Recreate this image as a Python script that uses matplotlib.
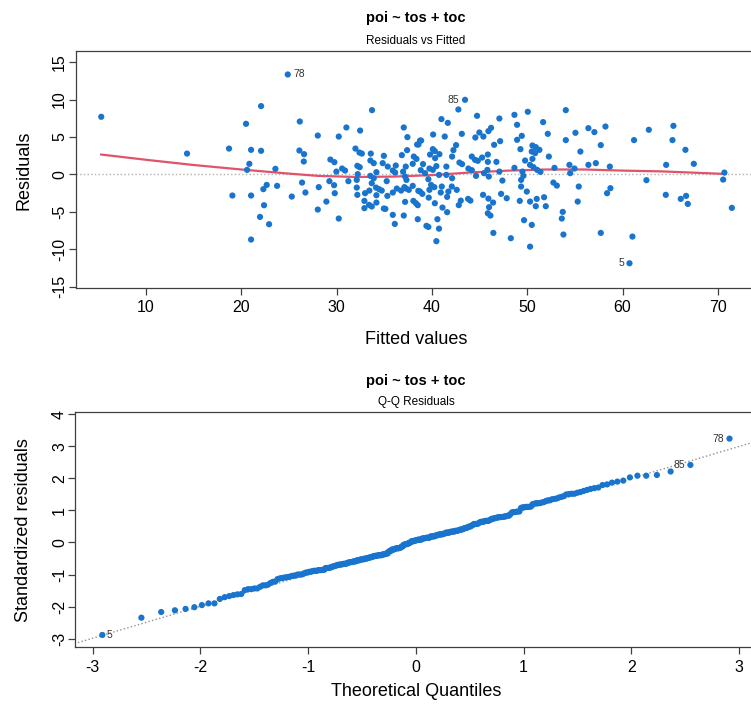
import matplotlib
matplotlib.use('Agg')
import matplotlib.pyplot as plt
import numpy as np
from statistics import NormalDist

plt.rcParams['font.family'] = ['Liberation Sans', 'DejaVu Sans']
plt.rcParams['axes.unicode_minus'] = False

fitted = [
    5.3, 14.3,
    24.87, 22.07, 20.49, 26.13, 18.71, 21.02, 22.07, 26.09, 26.58, 26.55, 20.84, 20.60,
    23.57, 22.66, 22.31, 23.75, 26.37, 26.72, 19.06, 21.02, 25.29, 22.38, 21.96, 22.91, 21.02,
    28.02, 30.22, 31.02, 32.46, 33.71, 37.04, 37.42, 38.44, 38.75, 31.97, 32.39, 32.64, 33.58,
    34.95, 36.84, 37.39, 38.09, 38.37, 29.34, 29.76, 33.54, 33.89, 32.17, 32.42, 34.83, 35.36,
    36.20, 37.25, 37.98, 30.57, 30.88, 29.97, 34.17, 35.89, 36.13, 36.97, 32.21, 33.54, 33.89,
    37.18, 37.32, 29.24, 31.23, 32.11, 35.25, 29.73, 28.12, 32.11, 33.68, 34.13, 34.45, 34.73,
    33.43, 36.31, 36.76, 37.11, 37.29, 37.57, 37.98, 38.57, 29.80, 32.17, 32.98, 34.17, 35.32,
    35.89, 28.92, 32.91, 33.40, 33.68, 34.17, 32.91, 34.95, 35.11, 37.18, 38.05, 38.31, 38.51,
    28.02, 35.89, 37.04, 30.22, 36.10, 38.51,
    43.47, 42.77, 40.99, 41.66, 44.73, 47.07, 48.65, 48.93, 50.05, 40.12, 41.34, 43.13, 44.97,
    44.55, 45.39, 45.92, 46.20, 38.86, 38.58, 47.15, 46.52, 49.42, 48.93, 49.28, 42.53, 42.25,
    40.09, 40.30, 40.78, 39.80, 40.33, 42.11, 39.06, 41.51, 40.46, 42.88, 43.16, 44.18, 44.52,
    44.81, 45.26, 45.86, 45.86, 43.82, 44.18, 46.76, 48.65, 49.77, 50.29, 39.73, 40.09, 38.82,
    39.27, 40.74, 41.51, 42.11, 44.62, 45.46, 45.81, 45.96, 47.07, 47.39, 49.49, 49.59, 39.62,
    39.91, 40.25, 41.03, 42.08, 41.72, 42.60, 39.73, 38.75, 38.99, 39.66, 40.92, 41.59, 40.30,
    41.10, 41.59, 42.81, 43.02, 43.79, 44.03, 45.36, 45.92, 45.99, 46.41, 45.86, 46.13, 47.25,
    47.84, 49.21, 49.35, 49.95, 49.35, 39.42, 39.62, 40.57, 40.74, 40.46, 46.44, 48.27, 49.66,
    50.29,
    54.04, 51.66, 52.15, 54.04, 55.05, 56.41, 57.04, 58.20, 57.71, 61.20, 55.57, 50.54, 50.89,
    51.27, 50.47, 50.82, 52.26, 50.54, 50.65, 51.03, 51.38, 52.85, 54.42, 54.95, 54.50, 56.41,
    57.19, 58.66, 52.74, 53.10, 55.40, 58.72, 58.37, 50.29, 50.99, 51.76, 50.89, 51.94, 55.29,
    53.72, 53.62, 50.47, 53.79, 57.71, 61.03, 60.72,
    62.75, 65.33, 65.23, 66.59, 64.57, 67.47, 70.68, 70.55, 62.50, 64.53, 66.10, 66.66, 66.84,
    71.46,
]
residuals = [
    7.7, 2.78,
    13.36, 9.13, 6.76, 7.07, 3.45, 3.28, 3.15, 3.19, 2.70, 1.72, 1.41, 0.60,
    0.74, -1.41, -1.98, -1.54, -1.10, -2.43, -2.83, -2.83, -2.97, -4.13, -5.69, -6.67, -8.72,
    5.19, 5.06, 6.27, 5.86, 8.59, 6.27, 4.98, 3.99, 4.52, 3.45, 2.92, 2.78, 2.78,
    2.48, 2.57, 3.24, 2.38, 2.07, 1.98, 1.63, 1.85, 1.50, 1.14, 0.96, 1.50, 1.04,
    1.18, 1.04, 1.41, 0.78, 0.51, 0.37, 0.29, 0.51, 0.24, 0.37, 0.03, -0.20, -0.51,
    -0.29, -0.74, -0.91, -0.91, -0.74, -0.91, -1.45, -1.71, -1.77, -1.18, -1.77, -1.98, -2.17,
    -2.17, -1.90, -2.17, -1.71, -1.90, -2.07, -1.54, -2.21, -2.52, -2.74, -2.52, -2.79, -2.88,
    -2.43, -3.64, -3.55, -4.08, -4.30, -3.77, -4.52, -4.57, -4.62, -3.68, -3.55, -3.86, -4.12,
    -4.71, -5.42, -5.51, -5.91, -6.63, -6.00,
    9.97, 8.68, 7.39, 6.89, 7.83, 7.47, 7.96, 6.63, 8.37, 5.33, 5.06, 5.42, 5.60,
    4.93, 5.06, 5.78, 6.22, 4.52, 3.99, 4.44, 3.95, 5.15, 4.62, 3.37, 3.91, 3.24,
    3.37, 3.11, 2.70, 2.65, 2.17, 2.38, 1.37, 1.04, 1.10, 1.58, 1.37, 2.38, 1.94,
    1.81, 2.25, 2.65, 1.67, 0.78, 0.56, 1.67, 0.87, 1.85, 1.27, 0.78, 0.60, 0.56,
    0.16, -0.07, -0.07, -0.51, -0.20, 0.16, 0.60, -0.29, 0.37, -0.83, 0.37, -0.20, -0.65,
    -1.41, -1.71, -1.63, -1.63, -2.30, -2.07, -2.07, -2.30, -2.61, -3.11, -2.43, -3.01, -3.86,
    -4.44, -5.06, -4.12, -3.51, -3.28, -3.51, -2.74, -3.24, -4.39, -3.77, -5.20, -5.51, -2.61,
    -3.19, -3.55, -1.63, -2.30, -0.74, -6.89, -7.03, -6.00, -7.26, -8.94, -7.83, -8.54, -6.13,
    -9.67,
    8.59, 6.99, 5.42, 4.58, 5.56, 6.18, 5.65, 6.40, 3.91, 4.58, 3.05, 3.86, 3.64,
    3.28, 3.05, 2.84, 2.38, 2.07, 0.96, 0.60, 0.33, 0.87, 1.27, 0.78, 0.16, 1.27,
    1.50, 1.04, -1.10, -1.50, -1.63, -1.85, -2.52, -3.64, -3.28, -3.06, -4.26, -4.26, -3.64,
    -5.02, -5.91, -6.76, -8.05, -7.83, -8.32, -11.89,
    5.96, 6.49, 4.58, 3.28, 1.27, 1.41, 0.24, -0.70, -0.78, -2.74, -3.28, -2.88, -3.95,
    -4.48,
]

# smoother (red line)
smooth_x = [5.3, 10, 15, 20, 25, 28, 32, 36, 40, 44, 48, 52, 56, 60, 64, 68, 70.8]
smooth_y = [2.65, 1.95, 1.25, 0.65, 0.1, -0.2, -0.35, -0.3, -0.1, 0.25, 0.5, 0.65, 0.65, 0.5, 0.4, 0.2, 0.05]

# observation ids of the three largest residuals (by |residual|)
id_labels = ['78', '5', '85']

fitted = np.array(fitted)
residuals = np.array(residuals)
n = len(residuals)

blue = '#1874CD'
red = '#DF536B'
spine_col = '#404040'

fig = plt.figure(figsize=(7.51, 7.09), dpi=100)
W, H = 751, 709


def style_axes(ax):
    for s in ax.spines.values():
        s.set_color(spine_col)
        s.set_linewidth(0.9)
    ax.tick_params(axis='both', direction='out', length=5, width=0.9, color=spine_col,
                   labelsize=11.5)
    ax.tick_params(axis='x', pad=4)
    ax.tick_params(axis='y', pad=1)
    for lab in ax.get_yticklabels():
        lab.set_rotation(90)
        lab.set_va('center')


order = np.argsort(-np.abs(residuals))[:3]

# --- Residuals vs Fitted
ax1 = fig.add_axes([75.5 / W, 1 - 288 / H, (757 - 75.5) / W, (288 - 51) / H])
ax1.axhline(0, color='#b0b0b0', linestyle=':', linewidth=1)
ax1.scatter(fitted, residuals, s=20, color=blue, edgecolors='none', zorder=3)
ax1.plot(smooth_x, smooth_y, color=red, linewidth=1.6, zorder=2)
ax1.set_xlim(2.6, 74.1)
ax1.set_ylim(-15.2, 16.5)
ax1.set_xticks([10, 20, 30, 40, 50, 60, 70])
ax1.set_yticks([-15, -10, -5, 0, 5, 10, 15])
style_axes(ax1)
for k, idx in enumerate(order):
    lab = id_labels[k]
    if lab == '78':
        ax1.annotate(lab, (fitted[idx], residuals[idx]), xytext=(4, 0), textcoords='offset points',
                     fontsize=7.5, va='center', ha='left', color='#333333')
    else:
        ax1.annotate(lab, (fitted[idx], residuals[idx]), xytext=(-4, 0), textcoords='offset points',
                     fontsize=7.5, va='center', ha='right', color='#333333')

fig.text(416 / W, 1 - 18 / H, 'poi ~ tos + toc', ha='center', va='center', fontsize=10.5,
         fontweight='bold')
fig.text(416 / W, 1 - 41 / H, 'Residuals vs Fitted', ha='center', va='center', fontsize=8.5)
fig.text(416 / W, 1 - 340 / H, 'Fitted values', ha='center', va='center', fontsize=13)
fig.text(24 / W, 1 - 170 / H, 'Residuals', ha='center', va='center', fontsize=13, rotation=90)

# --- Q-Q Residuals
sd = np.sqrt(np.sum(residuals ** 2) / (n - 3))
std_res = residuals / sd
nd = NormalDist()
ranks = np.argsort(np.argsort(std_res))
theo = np.array([nd.inv_cdf((r + 1 - 0.5) / n) for r in ranks])

ax2 = fig.add_axes([75.3 / W, 1 - 647 / H, (756.5 - 75.3) / W, (647 - 411.7) / H])
q1, q3 = np.percentile(std_res, [25, 75])
t1, t3 = nd.inv_cdf(0.25), nd.inv_cdf(0.75)
slope = (q3 - q1) / (t3 - t1)
icpt = q1 - slope * t1
xx = np.array([-3.3, 3.3])
ax2.plot(xx, icpt + slope * xx, color='#909090', linestyle=':', linewidth=1)
ax2.scatter(theo, std_res, s=20, color=blue, edgecolors='none', zorder=3)
ax2.set_xlim(-3.16, 3.16)
ax2.set_ylim(-3.26, 4.08)
ax2.set_xticks([-3, -2, -1, 0, 1, 2, 3])
ax2.set_yticks([-3, -2, -1, 0, 1, 2, 3, 4])
style_axes(ax2)
for k, idx in enumerate(order):
    lab = id_labels[k]
    if lab == '5':
        ax2.annotate(lab, (theo[idx], std_res[idx]), xytext=(3, 0), textcoords='offset points',
                     fontsize=7.5, va='center', ha='left', color='#333333')
    else:
        ax2.annotate(lab, (theo[idx], std_res[idx]), xytext=(-4, 0), textcoords='offset points',
                     fontsize=7.5, va='center', ha='right', color='#333333')

fig.text(416 / W, 1 - 381 / H, 'poi ~ tos + toc', ha='center', va='center', fontsize=10.5,
         fontweight='bold')
fig.text(416 / W, 1 - 402 / H, 'Q-Q Residuals', ha='center', va='center', fontsize=8.5)
fig.text(416 / W, 1 - 692 / H, 'Theoretical Quantiles', ha='center', va='center', fontsize=13)
fig.text(24 / W, 1 - 530 / H, 'Standardized residuals', ha='center', va='center', fontsize=13,
         rotation=90)

fig.savefig('out.png', dpi=100)
